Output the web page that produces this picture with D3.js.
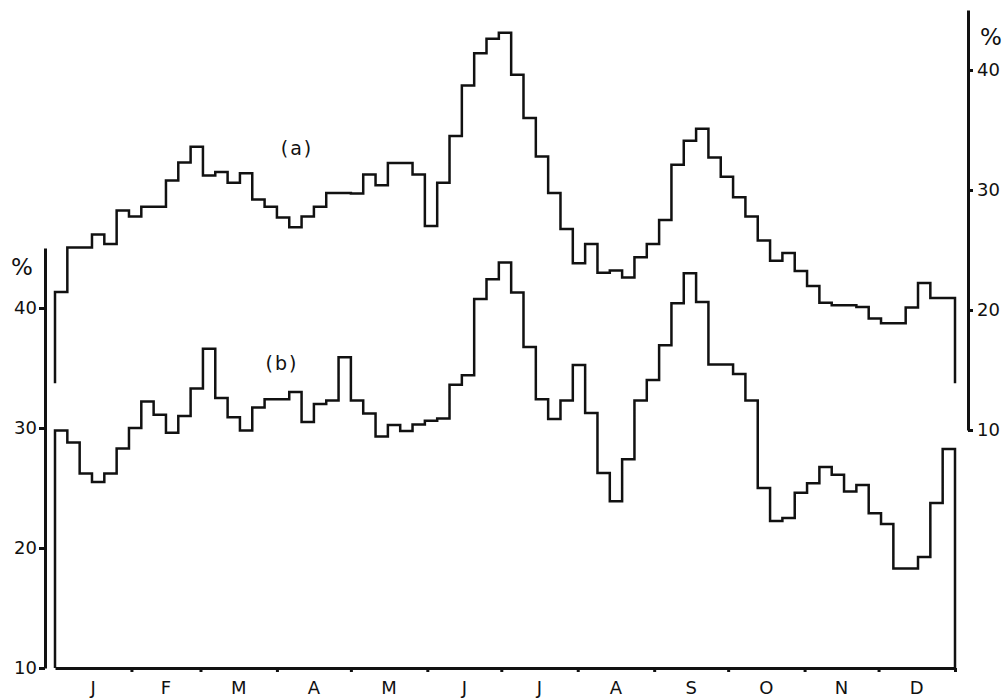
<!DOCTYPE html>
<html lang="en">
<head>
<meta charset="UTF-8">
<title>Pentad step chart (a) and (b)</title>
<script src="https://d3js.org/d3.v7.min.js"></script>
<style>
    body {
        margin: 0;
        padding: 0;
        background: #fff;
    }
    svg text {
        font-family: 'DejaVu Sans', sans-serif;
        fill: #111;
    }
    .axis path,
    .axis line {
        stroke: #111;
        stroke-width: 3;
    }
    .axis text {
        font-size: 18px;
    }
    .series {
        fill: none;
        stroke: #111;
        stroke-width: 2.5;
    }
</style>
</head>
<body>
<div id="chart"></div>
<script>
// month labels and the day on which each month starts (non-leap year, 365 days)
const months = ["J", "F", "M", "A", "M", "J", "J", "A", "S", "O", "N", "D"];
const monthStartDays = [0, 31, 59, 90, 120, 151, 181, 212, 243, 273, 304, 334, 365];
const pentadLength = 5;

// axis ticks (%)
const yTicks = [10, 20, 30, 40];

// series (a), right axis, 73 five-day values
const seriesA = [
    21.5, 25.2, 25.2, 26.3, 25.5, 28.3, 27.8, 28.6, 28.6, 30.8,
    32.3, 33.6, 31.2, 31.5, 30.6, 31.4, 29.2, 28.6, 27.7, 26.9,
    27.8, 28.6, 29.75, 29.75, 29.7, 31.3, 30.4, 32.25, 32.25, 31.3,
    27.0, 30.6, 34.5, 38.7, 41.4, 42.6, 43.1, 39.6, 36.0, 32.8,
    29.75, 26.75, 23.9, 25.5, 23.1, 23.3, 22.7, 24.4, 25.5, 27.5,
    32.1, 34.1, 35.1, 32.7, 31.1, 29.4, 27.8, 25.8, 24.1, 24.75,
    23.25, 22.0, 20.6, 20.4, 20.4, 20.25, 19.3, 18.9, 18.9, 20.2,
    22.25, 21.0, 21.0
];
const seriesAEnd = 13.9;

// series (b), left axis, 73 five-day values
const seriesB = [
    29.8, 28.8, 26.2, 25.5, 26.2, 28.3, 30.0, 32.2, 31.1, 29.6,
    31.0, 33.3, 36.6, 32.5, 30.9, 29.8, 31.7, 32.4, 32.4, 33.0,
    30.5, 32.0, 32.3, 35.9, 32.3, 31.2, 29.3, 30.25, 29.75, 30.3,
    30.6, 30.8, 33.6, 34.4, 40.75, 42.4, 43.8, 41.3, 36.75, 32.4,
    30.75, 32.3, 35.25, 31.25, 26.25, 23.9, 27.4, 32.3, 34.0, 36.9,
    40.4, 42.9, 40.5, 35.3, 35.3, 34.5, 32.3, 25.0, 22.25, 22.5,
    24.6, 25.4, 26.75, 26.1, 24.7, 25.25, 22.9, 22.0, 18.3, 18.3,
    19.25, 23.75, 28.25
];
const seriesBEnd = 10;

const width = 1006, height = 700;

const svg = d3.select("#chart").append("svg")
    .attr("width", width)
    .attr("height", height);

const x = d3.scaleLinear().domain([0, 365]).range([55, 955]);
const yB = d3.scaleLinear().domain([10, 45]).range([668, 248]);
const yA = d3.scaleLinear().domain([10, 45]).range([430, 10]);

// turn a list of pentad values into step points, dropping to a base at both ends
function stepPoints(values, base) {
    const pts = [[0, base]];
    values.forEach((v, i) => pts.push([i * pentadLength, v]));
    pts.push([365, values[values.length - 1]]);
    pts.push([365, base]);
    return pts;
}

// left axis for (b)
svg.append("g")
    .attr("class", "axis")
    .attr("transform", "translate(45,0)")
    .call(d3.axisLeft(yB).tickValues(yTicks).tickSize(6).tickSizeOuter(0).tickPadding(2))
    .call(g => g.selectAll("line").attr("stroke-width", 2.5));

svg.append("text")
    .attr("x", 22)
    .attr("y", 275)
    .attr("text-anchor", "middle")
    .attr("font-size", 23)
    .text("%");

// right axis for (a)
svg.append("g")
    .attr("class", "axis")
    .attr("transform", "translate(968,0)")
    .call(d3.axisRight(yA).tickValues(yTicks).tickSize(5).tickSizeOuter(0).tickPadding(4))
    .call(g => g.selectAll("line").attr("stroke-width", 2.5));

svg.append("text")
    .attr("x", 991)
    .attr("y", 45)
    .attr("text-anchor", "middle")
    .attr("font-size", 23)
    .text("%");

// bottom axis with month boundaries (including the year end)
svg.append("g")
    .attr("class", "axis")
    .attr("transform", "translate(0,668)")
    .call(d3.axisBottom(x).tickValues(monthStartDays.slice(1)).tickFormat("").tickSize(4).tickSizeOuter(0))
    .call(g => g.selectAll("line").attr("stroke-width", 2));

svg.append("g")
    .selectAll("text")
    .data(months)
    .enter()
    .append("text")
    .attr("x", (d, i) => x((monthStartDays[i] + monthStartDays[i + 1]) / 2))
    .attr("y", 694)
    .attr("text-anchor", "middle")
    .attr("font-size", 18)
    .text(d => d);

// step lines
const lineA = d3.line()
    .x(d => x(d[0]))
    .y(d => yA(d[1]))
    .curve(d3.curveStepAfter);

const lineB = d3.line()
    .x(d => x(d[0]))
    .y(d => yB(d[1]))
    .curve(d3.curveStepAfter);

svg.append("path")
    .attr("class", "series")
    .attr("d", lineA(stepPoints(seriesA, seriesAEnd)));

svg.append("path")
    .attr("class", "series")
    .attr("d", lineB(stepPoints(seriesB, seriesBEnd)));

// series labels
svg.append("text")
    .attr("x", 297)
    .attr("y", 155)
    .attr("text-anchor", "middle")
    .attr("font-size", 19)
    .attr("letter-spacing", 2)
    .text("(a)");

svg.append("text")
    .attr("x", 282)
    .attr("y", 370)
    .attr("text-anchor", "middle")
    .attr("font-size", 19)
    .attr("letter-spacing", 2)
    .text("(b)");
</script>
</body>
</html>
